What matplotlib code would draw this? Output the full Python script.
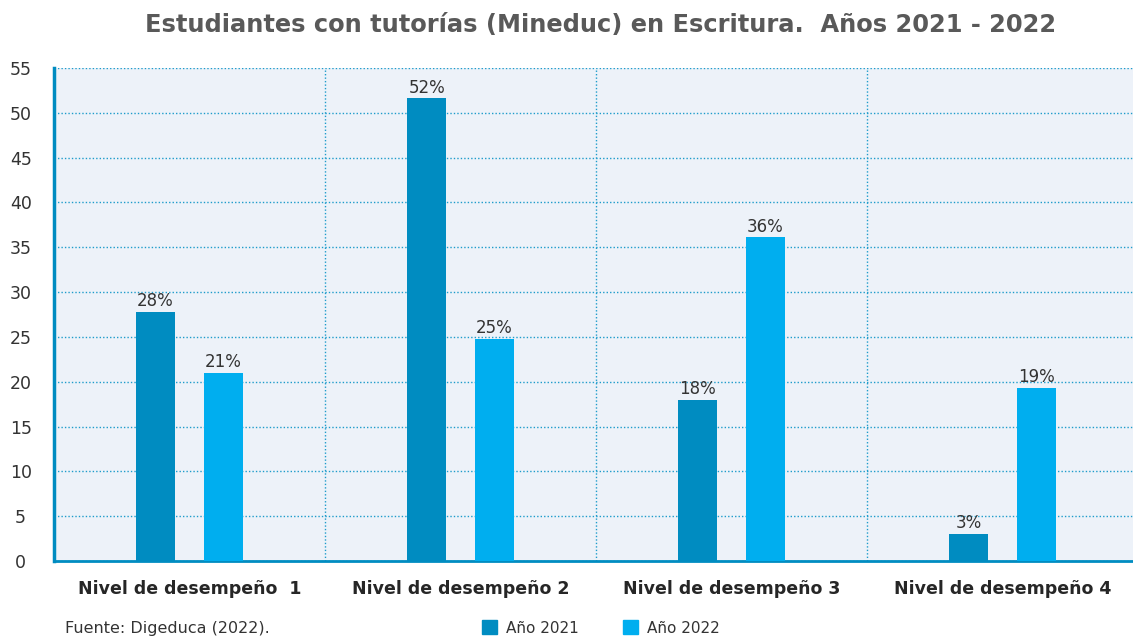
import matplotlib
matplotlib.use("Agg")
import matplotlib.pyplot as plt
import numpy as np
from matplotlib.patches import Rectangle

categories = ["Nivel de desempeño  1", "Nivel de desempeño 2", "Nivel de desempeño 3", "Nivel de desempeño 4"]
series_names = ["Año 2021", "Año 2022"]
values_2021 = [27.8, 51.6, 18.0, 3.0]
values_2022 = [21.0, 24.8, 36.1, 19.3]
labels_2021 = ["28%", "52%", "18%", "3%"]
labels_2022 = ["21%", "25%", "36%", "19%"]
yticks = [0, 5, 10, 15, 20, 25, 30, 35, 40, 45, 50, 55]

title = "Estudiantes con tutorías (Mineduc) en Escritura.  Años 2021 - 2022"
source = "Fuente: Digeduca (2022)."

c2021 = "#008CC1"
c2022 = "#00AEEF"
grid_c = "#1E9CCB"
bg = "#EDF2F9"
text_c = "#333333"

plt.rcParams['font.family'] = ['DejaVu Sans']

fig = plt.figure(figsize=(11.33, 6.37), dpi=100)
W, H = 1133, 637
ax = fig.add_axes([54 / W, 1 - 561 / H, (1138 - 54) / W, (561 - 68) / H])
ax.set_facecolor(bg)

x = np.arange(len(categories))
bw = 0.143
off = 0.125
ax.bar(x - off, values_2021, bw, color=c2021, zorder=3)
ax.bar(x + off, values_2022, bw, color=c2022, zorder=3)
for xi, v, l in zip(x - off, values_2021, labels_2021):
    ax.text(xi, v + 0.2, l, ha="center", va="bottom", fontsize=12, color=text_c, zorder=4)
for xi, v, l in zip(x + off, values_2022, labels_2022):
    ax.text(xi, v + 0.2, l, ha="center", va="bottom", fontsize=12, color=text_c, zorder=4)

ax.set_xlim(-0.5, len(categories) - 0.5)
ax.set_ylim(0, 55)
ax.set_yticks(yticks)
ax.set_yticklabels([str(t) for t in yticks], fontsize=12.5, color=text_c)
ax.set_xticks(x)
ax.set_xticklabels(categories, fontsize=12.5, fontweight="bold", color="#262626")
ax.tick_params(axis="both", length=0)
ax.tick_params(axis="x", pad=14)
for t in ax.get_yticklabels():
    t.set_horizontalalignment("center")
ax.yaxis.set_tick_params(pad=24)

ax.set_xticks(np.arange(0.5, len(categories) - 0.5, 1.0), minor=True)
ax.tick_params(axis="x", which="minor", length=0)
ax.grid(True, axis="y", which="major", linestyle=(0, (1, 1.5)), color=grid_c, linewidth=1.0, zorder=1)
ax.grid(True, axis="x", which="minor", linestyle=(0, (1, 1.5)), color=grid_c, linewidth=1.0, zorder=1)
ax.grid(False, axis="x", which="major")

for s in ["top", "right"]:
    ax.spines[s].set_visible(False)
ax.spines["left"].set_color(c2021)
ax.spines["left"].set_linewidth(2.5)
ax.spines["bottom"].set_color(c2021)
ax.spines["bottom"].set_linewidth(2.0)

fig.text(601 / W, 1 - 25 / H, title, ha="center", va="center", fontsize=17.4,
         fontweight="bold", color="#595959")
fig.text(65 / W, 1 - 629 / H, source, ha="left", va="center", fontsize=11.5, color=text_c)

handles = [Rectangle((0, 0), 1, 1, color=c2021), Rectangle((0, 0), 1, 1, color=c2022)]
fig.legend(handles, series_names, loc="center", bbox_to_anchor=(601 / W, 1 - 628 / H),
           ncol=2, frameon=False, fontsize=11, handlelength=1.0, handleheight=1.0,
           handletextpad=0.6, columnspacing=2.85, labelcolor=text_c)

fig.savefig("out.png", dpi=100)
